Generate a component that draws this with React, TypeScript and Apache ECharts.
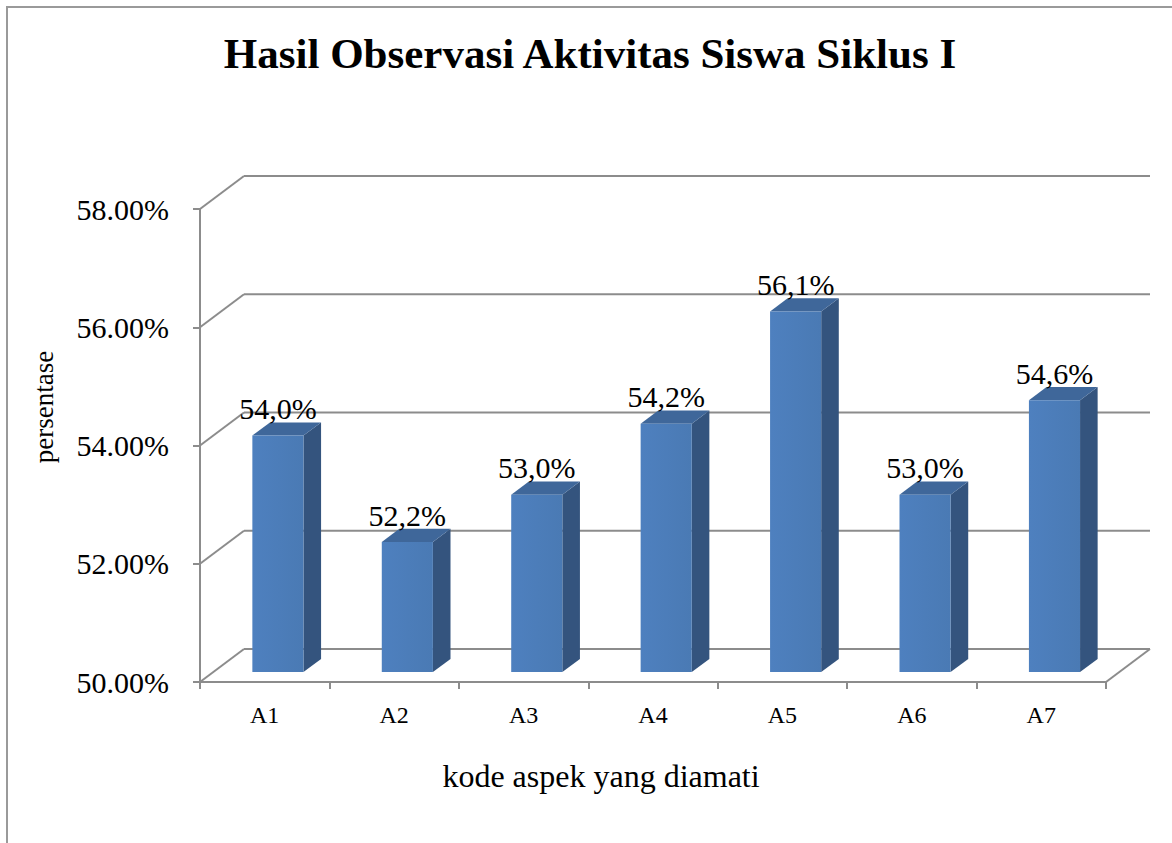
import React, { useEffect, useRef } from "react";
import * as echarts from "echarts";

const categories = ["A1", "A2", "A3", "A4", "A5", "A6", "A7"];
const values = [54.0, 52.2, 53.0, 54.2, 56.1, 53.0, 54.6];
const yTicks = [50, 52, 54, 56, 58];

const titleText = "Hasil Observasi Aktivitas Siswa Siklus I";
const yAxisName = "persentase";
const xAxisName = "kode aspek yang diamati";

const FONT = "Liberation Serif";
const LINE = "#8c8c8c";
const DX = 44;
const DY = -33;
const T1 = 0.3;
const T2 = 0.7;

export default function App() {
  const ref = useRef<HTMLDivElement>(null);
  useEffect(() => {
    if (!ref.current) return;
    const chart = echarts.init(ref.current, undefined, { renderer: "svg" });
    const option: any = {
      animation: false,
      backgroundColor: "#ffffff",
      textStyle: { fontFamily: FONT },
      grid: { left: 200, top: 209, width: 906, height: 473 },
      xAxis: {
        type: "category",
        data: categories,
        axisLine: { show: true, lineStyle: { color: LINE, width: 2 } },
        axisTick: { show: true, length: 7, lineStyle: { color: LINE, width: 2 } },
        axisLabel: { color: "#000", fontFamily: FONT, fontSize: 24, margin: 21 },
        splitLine: { show: false },
      },
      yAxis: {
        type: "value",
        min: 50,
        max: 58,
        interval: 2,
        axisLine: { show: true, lineStyle: { color: LINE, width: 2 } },
        axisTick: { show: true, length: 7, lineStyle: { color: LINE, width: 2 } },
        axisLabel: {
          color: "#000",
          fontFamily: FONT,
          fontSize: 30,
          margin: 31,
          formatter: (v: number) => v.toFixed(2) + "%",
        },
        splitLine: { show: false },
      },
      graphic: [
        {
          type: "rect",
          shape: { x: 7, y: 7, width: 1300, height: 1000 },
          style: { fill: "none", stroke: "#9a9a9a", lineWidth: 2 },
          silent: true,
        },
        {
          type: "text",
          x: 590,
          y: 53,
          style: {
            text: titleText,
            fontFamily: FONT,
            fontWeight: "bold",
            fontSize: 43,
            fill: "#000",
            textAlign: "center",
            textVerticalAlign: "middle",
          },
        },
        {
          type: "text",
          x: 44,
          y: 407,
          rotation: Math.PI / 2,
          style: {
            text: yAxisName,
            fontFamily: FONT,
            fontSize: 27,
            fill: "#000",
            textAlign: "center",
            textVerticalAlign: "middle",
          },
        },
        {
          type: "text",
          x: 601,
          y: 776,
          style: {
            text: xAxisName,
            fontFamily: FONT,
            fontSize: 32,
            fill: "#000",
            textAlign: "center",
            textVerticalAlign: "middle",
          },
        },
      ],
      series: [
        {
          type: "custom",
          z: 1,
          silent: true,
          data: yTicks.map((v) => [0, v]),
          encode: { x: 0, y: 1 },
          renderItem: (params: any, api: any) => {
            const v = api.value(1);
            const y = api.coord([0, v])[1];
            const cs = params.coordSys;
            const left = cs.x;
            const right = cs.x + cs.width;
            const style = { stroke: LINE, lineWidth: 2 };
            const children: any[] = [
              {
                type: "line",
                shape: { x1: left, y1: y, x2: left + DX, y2: y + DY },
                style,
              },
              {
                type: "line",
                shape: { x1: left + DX, y1: y + DY, x2: right + DX, y2: y + DY },
                style,
              },
            ];
            if (v === yTicks[0]) {
              children.push({
                type: "line",
                shape: { x1: right, y1: y, x2: right + DX, y2: y + DY },
                style,
              });
            }
            return { type: "group", children };
          },
        },
        {
          type: "custom",
          z: 3,
          data: values.map((v, i) => [i, v]),
          encode: { x: 0, y: 1 },
          renderItem: (params: any, api: any) => {
            const idx = api.value(0);
            const val = api.value(1);
            const top = api.coord([idx, val]);
            const base = api.coord([idx, yTicks[0]]);
            const cat = api.size([1, 0])[0];
            const bw = cat * 0.395;
            const x0 = top[0] + T1 * DX - bw / 2;
            const x1 = x0 + bw;
            const yTop = top[1] + T1 * DY;
            const yBot = base[1] + T1 * DY;
            const ddx = (T2 - T1) * DX;
            const ddy = (T2 - T1) * DY;
            const label = val.toFixed(1).replace(".", ",") + "%";
            return {
              type: "group",
              children: [
                {
                  type: "polygon",
                  shape: {
                    points: [
                      [x1, yTop],
                      [x1 + ddx, yTop + ddy],
                      [x1 + ddx, yBot + ddy],
                      [x1, yBot],
                    ],
                  },
                  style: { fill: "#34547e" },
                },
                {
                  type: "polygon",
                  shape: {
                    points: [
                      [x0, yTop],
                      [x1, yTop],
                      [x1 + ddx, yTop + ddy],
                      [x0 + ddx, yTop + ddy],
                    ],
                  },
                  style: { fill: "#3f679a" },
                },
                {
                  type: "rect",
                  shape: { x: x0, y: yTop, width: bw, height: yBot - yTop },
                  style: {
                    fill: new echarts.graphic.LinearGradient(0, 0, 1, 0, [
                      { offset: 0, color: "#4e80bf" },
                      { offset: 1, color: "#4a7ab4" },
                    ]),
                  },
                },
                {
                  type: "text",
                  x: x0 + bw / 2,
                  y: yTop - 27,
                  style: {
                    text: label,
                    fontFamily: FONT,
                    fontSize: 30,
                    fill: "#000",
                    textAlign: "center",
                    textVerticalAlign: "middle",
                  },
                },
              ],
            };
          },
        },
      ],
    };
    chart.setOption(option);
    return () => chart.dispose();
  }, []);
  return (
    <div
      ref={ref}
      style={{ position: "fixed", left: 0, top: 0, width: 1172, height: 843, background: "#fff" }}
    />
  );
}
